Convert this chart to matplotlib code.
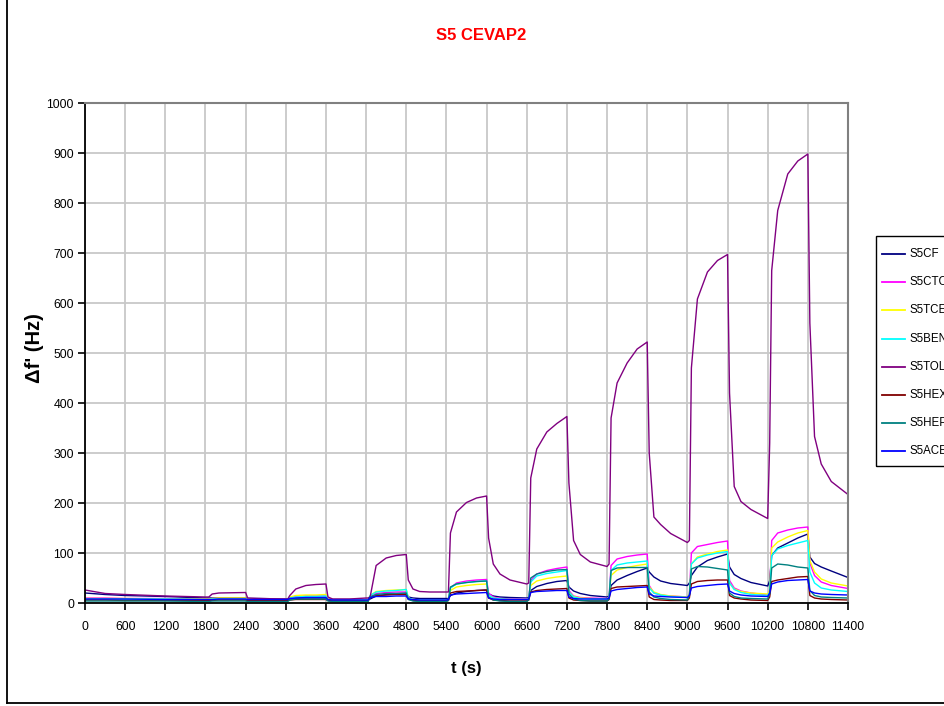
import matplotlib
matplotlib.use('Agg')
import matplotlib.pyplot as plt
from matplotlib.lines import Line2D
from matplotlib.patches import Rectangle

plt.rcParams['font.family'] = ['Liberation Sans', 'DejaVu Sans']

# Zeitpunkte (s)
t_s = [0, 300, 600, 1200, 1800, 1850, 1900, 2000, 2400, 2430, 2600,
       3000, 3030, 3060, 3150, 3300, 3450, 3600, 3630, 3700, 3800, 3950,
       4200, 4230, 4260, 4350, 4500, 4650, 4800, 4830, 4900, 5000, 5150,
       5400, 5430, 5460, 5550, 5700, 5850, 6000, 6030, 6100, 6200, 6350,
       6600, 6630, 6660, 6750, 6900, 7050, 7200, 7230, 7300, 7400, 7550,
       7800, 7830, 7860, 7950, 8100, 8250, 8400, 8430, 8500, 8600, 8750,
       9000, 9030, 9060, 9150, 9300, 9450, 9600, 9630, 9700, 9800, 9950,
       10200, 10230, 10260, 10350, 10500, 10650, 10800, 10830, 10900, 11000, 11150,
       11400]

s5cf = [20, 17, 15, 13, 10, 10, 10, 10, 10, 9, 9,
        8, 8, 9, 10, 10, 10, 10, 8, 7, 7, 7,
        7, 7, 8, 14, 17, 18, 18, 12, 10, 9, 9,
        9, 9, 15, 20, 23, 25, 26, 18, 14, 12, 11,
        10, 11, 25, 33, 39, 43, 45, 32, 24, 19, 15,
        12, 14, 35, 46, 55, 63, 70, 62, 52, 44, 39,
        35, 40, 55, 72, 85, 92, 98, 72, 57, 49, 41,
        34, 45, 95, 110, 120, 130, 138, 92, 79, 72, 64,
        51]

s5ctc = [10, 10, 9, 9, 8, 8, 9, 9, 9, 8, 8,
         7, 7, 10, 13, 14, 14, 14, 8, 6, 6, 6,
         6, 6, 12, 19, 21, 22, 22, 10, 7, 6, 6,
         6, 7, 30, 40, 44, 46, 47, 20, 12, 9, 8,
         8, 10, 45, 58, 65, 69, 72, 25, 14, 11, 10,
         9, 12, 75, 88, 93, 96, 98, 35, 20, 16, 14,
         12, 18, 100, 113, 117, 121, 124, 45, 30, 24, 20,
         16, 25, 125, 140, 146, 150, 152, 80, 55, 42, 35,
         29]

s5tce = [9, 9, 9, 8, 8, 8, 9, 10, 10, 8, 8,
         7, 7, 12, 15, 16, 16, 17, 8, 6, 6, 6,
         6, 6, 15, 23, 25, 26, 27, 10, 7, 6, 6,
         6, 7, 25, 32, 35, 37, 38, 16, 10, 8, 7,
         7, 9, 35, 44, 49, 52, 54, 22, 13, 10, 9,
         8, 11, 55, 66, 71, 75, 78, 32, 22, 17, 14,
         12, 18, 78, 92, 98, 103, 106, 40, 28, 23, 20,
         18, 25, 110, 122, 132, 140, 145, 85, 62, 48, 40,
         34]

s5ben = [8, 8, 8, 8, 7, 7, 8, 8, 8, 7, 7,
         7, 7, 10, 12, 13, 13, 14, 7, 6, 6, 6,
         6, 6, 15, 22, 24, 25, 27, 10, 7, 6, 6,
         6, 7, 30, 38, 41, 43, 44, 16, 10, 8, 7,
         7, 9, 42, 54, 59, 62, 65, 22, 12, 9, 8,
         8, 11, 65, 76, 80, 82, 84, 30, 20, 16, 13,
         11, 16, 78, 90, 96, 100, 103, 40, 27, 21, 17,
         15, 22, 95, 108, 115, 120, 125, 62, 40, 30, 26,
         23]

s5tol = [26, 19, 17, 14, 12, 12, 18, 20, 21, 10, 9,
         8, 8, 15, 28, 35, 37, 38, 12, 8, 8, 8,
         10, 10, 12, 75, 90, 95, 97, 46, 28, 23, 22,
         22, 22, 140, 182, 201, 210, 214, 130, 78, 58, 46,
         38, 40, 250, 308, 342, 359, 373, 240, 125, 97, 82,
         73, 78, 370, 440, 480, 508, 522, 300, 172, 157, 139,
         121, 125, 470, 608, 662, 685, 697, 420, 233, 203, 187,
         169, 320, 665, 785, 858, 884, 898, 560, 333, 278, 243,
         217]

s5hex = [6, 6, 5, 5, 5, 5, 5, 6, 6, 5, 5,
         5, 5, 6, 7, 7, 7, 7, 5, 4, 4, 4,
         4, 4, 12, 15, 16, 17, 17, 8, 5, 4, 4,
         4, 5, 20, 23, 24, 25, 26, 10, 6, 5, 4,
         4, 6, 22, 25, 27, 28, 29, 10, 6, 5, 4,
         4, 7, 29, 32, 33, 34, 35, 12, 7, 6, 5,
         5, 10, 38, 43, 45, 46, 46, 15, 10, 8, 6,
         5, 12, 43, 46, 49, 52, 53, 15, 10, 8, 7,
         6]

s5hep = [4, 4, 4, 4, 3, 3, 4, 4, 4, 3, 3,
         3, 3, 6, 8, 8, 8, 8, 4, 3, 3, 3,
         3, 3, 12, 17, 19, 19, 20, 7, 4, 3, 3,
         3, 5, 32, 38, 41, 43, 44, 12, 6, 4, 3,
         3, 6, 50, 58, 63, 66, 67, 18, 8, 5, 4,
         4, 8, 65, 70, 71, 71, 71, 22, 12, 9, 7,
         6, 15, 68, 73, 72, 69, 66, 20, 13, 10, 9,
         8, 18, 70, 78, 76, 72, 70, 25, 15, 12, 11,
         10]

s5ace = [8, 8, 8, 7, 7, 7, 7, 8, 8, 7, 7,
         7, 7, 9, 10, 11, 11, 11, 7, 6, 6, 6,
         6, 6, 11, 13, 13, 14, 14, 8, 7, 6, 6,
         6, 7, 16, 18, 19, 20, 21, 10, 8, 7, 7,
         7, 8, 21, 23, 24, 25, 25, 12, 9, 8, 8,
         8, 10, 24, 27, 29, 31, 32, 18, 14, 13, 12,
         11, 15, 30, 33, 35, 37, 38, 24, 19, 16, 14,
         13, 20, 38, 42, 45, 46, 47, 24, 20, 18, 17,
         16]

labels = ['S5CF', 'S5CTC', 'S5TCE', 'S5BEN', 'S5TOL', 'S5HEX', 'S5HEP', 'S5ACE']
farben = ['#000080', '#FF00FF', '#FFFF00', '#00FFFF', '#800080', '#800000', '#008080', '#0000FF']
reihen = [s5cf, s5ctc, s5tce, s5ben, s5tol, s5hex, s5hep, s5ace]

xticks = [0, 600, 1200, 1800, 2400, 3000, 3600, 4200, 4800, 5400, 6000,
          6600, 7200, 7800, 8400, 9000, 9600, 10200, 10800, 11400]
yticks = [0, 100, 200, 300, 400, 500, 600, 700, 800, 900, 1000]

W, H = 945, 706
fig = plt.figure(figsize=(W / 100, H / 100), dpi=100)
ax = fig.add_axes([85 / W, 1 - 603 / H, (848 - 85) / W, (603 - 103) / H])

for y, c, lab in zip(reihen, farben, labels):
    ax.plot(t_s, y, color=c, lw=1.0, label=lab)

ax.set_xlim(0, 11400)
ax.set_ylim(0, 1000)
ax.set_xticks(xticks)
ax.set_yticks(yticks)
ax.grid(True, color='#C8C8C8', lw=1.3)
ax.set_axisbelow(True)
for s in ['top', 'right']:
    ax.spines[s].set_color('#808080')
    ax.spines[s].set_linewidth(1.5)
for s in ['left', 'bottom']:
    ax.spines[s].set_color('black')
    ax.spines[s].set_linewidth(1.3)
ax.tick_params(axis='x', direction='out', length=5, width=1.2, pad=8, labelsize=8.8)
ax.tick_params(axis='y', direction='out', length=5, width=1.2, pad=3, labelsize=8.8)

# Beschriftung
fig.text(481 / W, 1 - 35 / H, 'S5 CEVAP2', color='red', fontsize=12, fontweight='bold',
         ha='center', va='center')
fig.text(35 / W, 1 - 348 / H, "Δf' (Hz)", rotation=90, fontsize=14.5, fontweight='bold',
         ha='center', va='center')
fig.text(466 / W, 1 - 668 / H, 't (s)', fontsize=12, fontweight='bold', ha='center', va='center')

# Legende von Hand, rechts abgeschnitten wie im Original
fig.add_artist(Rectangle((876 / W, 1 - 466 / H), 100 / W, (466 - 236) / H,
                         transform=fig.transFigure, fill=False, ec='black', lw=1.0))
for i, (c, lab) in enumerate(zip(farben, labels)):
    yy = 1 - (254 + i * 28.2) / H
    fig.add_artist(Line2D([882 / W, 905 / W], [yy, yy], color=c, lw=1.3,
                          transform=fig.transFigure))
    fig.text(910 / W, yy, lab, fontsize=8.3, va='center', ha='left')

# Rahmen des Diagrammbereichs
fig.add_artist(Line2D([7 / W, 7 / W], [3 / H, 1.0], color='black', lw=1.3, transform=fig.transFigure))
fig.add_artist(Line2D([7 / W, 1.0], [3 / H, 3 / H], color='black', lw=1.3, transform=fig.transFigure))

fig.savefig('out.png', dpi=100)
